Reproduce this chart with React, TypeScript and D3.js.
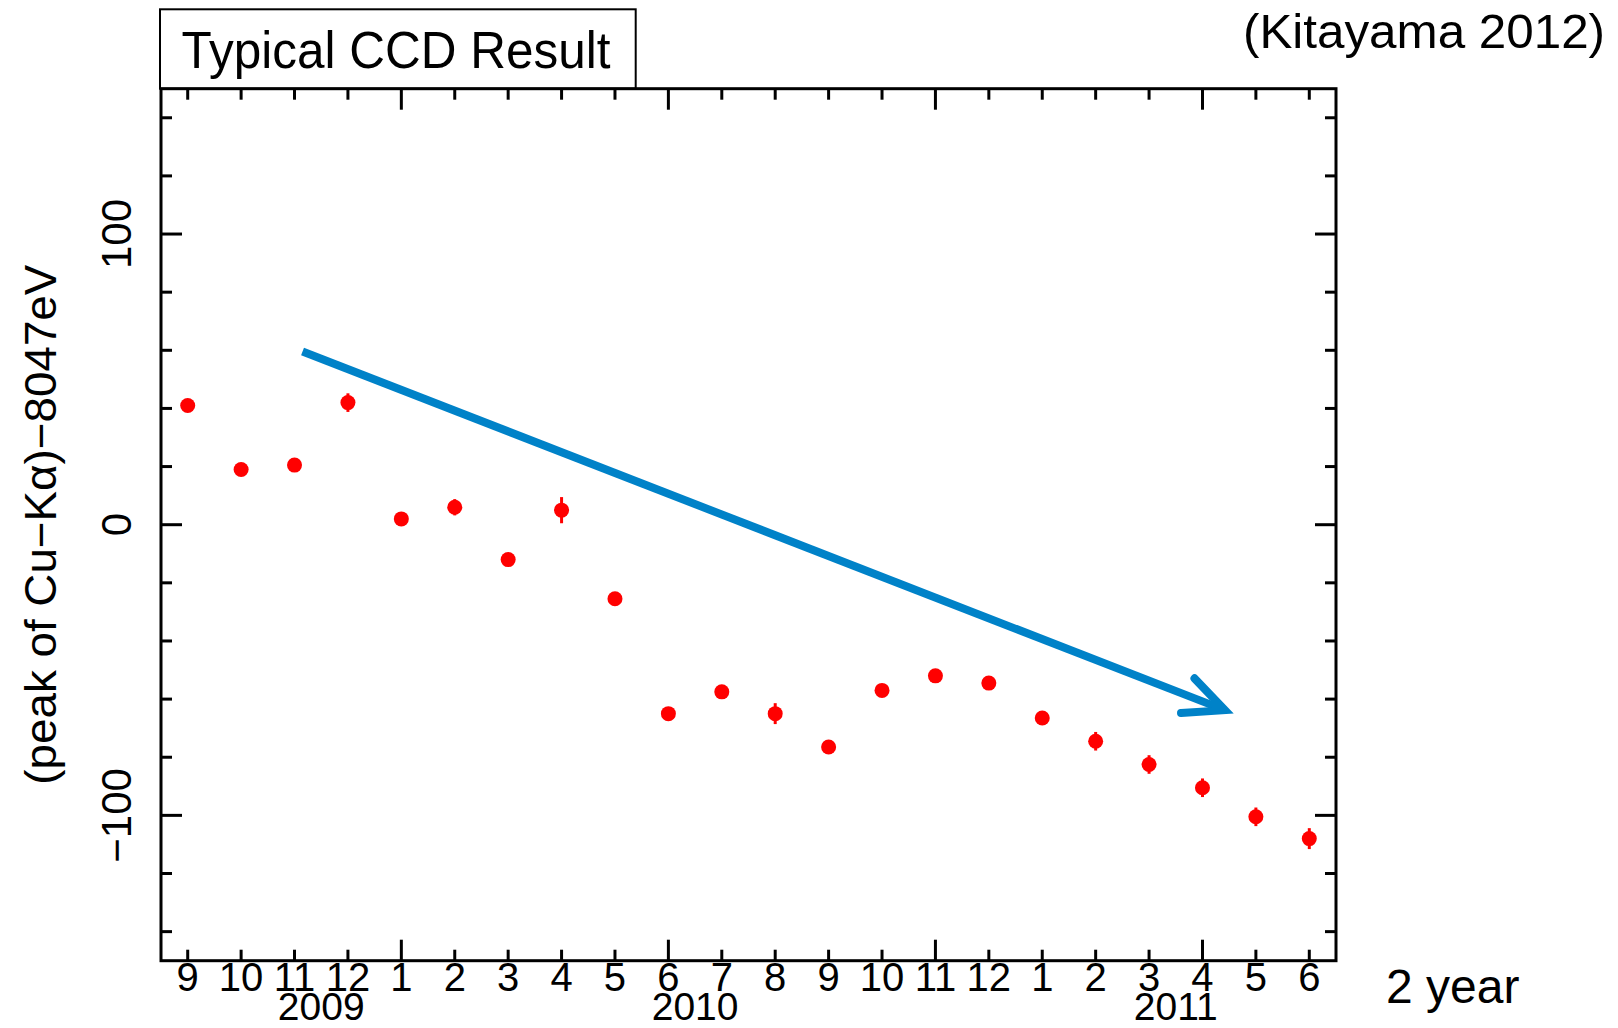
import React from 'react';
import * as d3 from 'd3';

// ---- data ----
const monthLabels = ['9', '10', '11', '12', '1', '2', '3', '4', '5', '6', '7', '8', '9', '10', '11', '12', '1', '2', '3', '4', '5', '6'];
const yearLabels = ['2009', '2010', '2011'];
const yearCenters = [2.5, 9.5, 18.5];
const peakValues = [41, 19, 20.5, 42, 2, 6, -12, 5, -25.5, -65, -57.5, -65, -76.5, -57, -52, -54.5, -66.5, -74.5, -82.5, -90.5, -100.5, -108];
const peakErrors = [1.5, 1.5, 1.5, 3.2, 1.5, 2.8, 1.5, 4.5, 1.5, 1.5, 1.5, 3.6, 1.5, 1.5, 1.5, 2.2, 1.5, 3.2, 3.2, 3.2, 3.2, 3.6];
const yMinorTicks = d3.range(-140, 141, 20);
const yMajorTicks = [-100, 0, 100];
const xMajorEvery = 5;
const xMajorOffset = 4;
const trendStart: [number, number] = [2.15, 59.6];
const trendEnd: [number, number] = [19.42, -63.8];

const W = 1618;
const H = 1028;
const left = 161, right = 1336, top = 88.7, bottom = 960.7;

export default function App() {
  const x = d3.scaleLinear().domain([-0.5, 21.5]).range([left, right]);
  const y = d3.scaleLinear().domain([-150, 150]).range([bottom, top]);
  const font = '"Liberation Sans", Arial, Helvetica, sans-serif';
  const minorLen = 11, majorLen = 21;
  const axisW = 3;

  // arrow
  const sx = x(trendStart[0]), sy = y(trendStart[1]);
  const ex = x(trendEnd[0]), ey = y(trendEnd[1]);
  const ang = Math.atan2(ey - sy, ex - sx);
  const headLen = 44;
  const headAng = (25 * Math.PI) / 180;
  const a1 = [ex - headLen * Math.cos(ang - headAng), ey - headLen * Math.sin(ang - headAng)];
  const a2 = [ex - headLen * Math.cos(ang + headAng), ey - headLen * Math.sin(ang + headAng)];
  const blue = '#0082C8';

  return (
    <svg width={W} height={H} style={{ position: 'absolute', left: 0, top: 0, background: '#fff' }} fontFamily={font}>
      <rect x={0} y={0} width={W} height={H} fill="#fff" />

      {/* title box */}
      <rect x={160} y={9.3} width={475.7} height={top - 9.3} fill="#fff" stroke="#000" strokeWidth={2} />
      <text x={181.6} y={68} fontSize={52} textLength={429} lengthAdjust="spacingAndGlyphs" fill="#000">Typical CCD Result</text>

      <text x={1605} y={48} fontSize={48} textAnchor="end" textLength={362} lengthAdjust="spacingAndGlyphs" fill="#000">(Kitayama 2012)</text>
      <text x={1386} y={1003} fontSize={48} fill="#000">2 year</text>

      {/* frame */}
      <rect x={left} y={top} width={right - left} height={bottom - top} fill="none" stroke="#000" strokeWidth={axisW} />

      {/* y ticks */}
      {yMinorTicks.map((v) => {
        const len = yMajorTicks.includes(v) ? majorLen : minorLen;
        return (
          <g key={'yt' + v}>
            <line x1={left} x2={left + len} y1={y(v)} y2={y(v)} stroke="#000" strokeWidth={axisW} />
            <line x1={right} x2={right - len} y1={y(v)} y2={y(v)} stroke="#000" strokeWidth={axisW} />
          </g>
        );
      })}
      {yMajorTicks.map((v) => (
        <text key={'yl' + v} transform={`translate(131,${y(v)}) rotate(-90)`} fontSize={42} textAnchor="middle" fill="#000">
          {v < 0 ? '\u2212' + Math.abs(v) : String(v)}
        </text>
      ))}
      <text transform={`translate(56,${(top + bottom) / 2}) rotate(-90)`} fontSize={44} textAnchor="middle" textLength={520} lengthAdjust="spacingAndGlyphs" fill="#000">
        (peak of Cu{'\u2212'}K{'\u03B1'}){'\u2212'}8047eV
      </text>

      {/* x ticks */}
      {monthLabels.map((m, i) => {
        const len = (i - xMajorOffset) % xMajorEvery === 0 ? majorLen : minorLen;
        return (
          <g key={'xt' + i}>
            <line x1={x(i)} x2={x(i)} y1={bottom} y2={bottom - len} stroke="#000" strokeWidth={axisW} />
            <line x1={x(i)} x2={x(i)} y1={top} y2={top + len} stroke="#000" strokeWidth={axisW} />
            <text x={x(i)} y={991} fontSize={40} textAnchor="middle" fill="#000">{m}</text>
          </g>
        );
      })}
      {yearLabels.map((yl, i) => (
        <text key={'yr' + yl} x={x(yearCenters[i])} y={1020} fontSize={39} textAnchor="middle" fill="#000">{yl}</text>
      ))}

      {/* data */}
      {peakValues.map((v, i) => (
        <g key={'pt' + i}>
          <line x1={x(i)} x2={x(i)} y1={y(v - peakErrors[i])} y2={y(v + peakErrors[i])} stroke="#FF0000" strokeWidth={3} />
          <circle cx={x(i)} cy={y(v)} r={7.5} fill="#FF0000" />
        </g>
      ))}

      {/* trend arrow */}
      <line x1={sx} y1={sy} x2={ex} y2={ey} stroke={blue} strokeWidth={8} />
      <polyline points={`${a1[0]},${a1[1]} ${ex},${ey} ${a2[0]},${a2[1]}`} fill="none" stroke={blue} strokeWidth={8} strokeLinecap="round" strokeLinejoin="miter" />
    </svg>
  );
}
